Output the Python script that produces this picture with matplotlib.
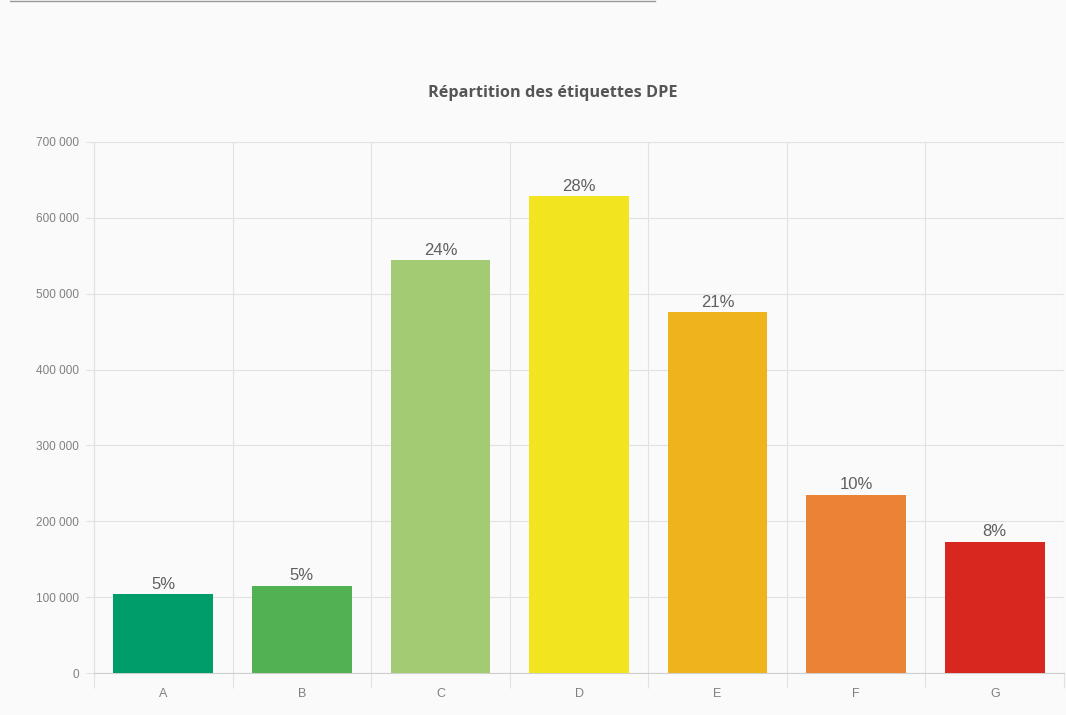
import matplotlib
matplotlib.use("Agg")
import matplotlib.pyplot as plt
from matplotlib.lines import Line2D
from matplotlib.ticker import FuncFormatter
import numpy as np

# Data
labels = ["A", "B", "C", "D", "E", "F", "G"]
counts = [104000, 115000, 544000, 629000, 476000, 235000, 173000]
percents = ["5%", "5%", "24%", "28%", "21%", "10%", "8%"]
colors = ["#009c6a", "#52b153", "#a3cb74", "#f2e41e", "#efb41b", "#ea8336", "#d7271f"]

bg = "#fafafa"
grid_col = "#e2e2e2"
text_col = "#808080"

fig = plt.figure(figsize=(10.66, 7.15), dpi=100, facecolor=bg)
ax = fig.add_axes([94 / 1066, 42 / 715, 970 / 1066, 531 / 715], facecolor=bg)

x = np.arange(len(labels))
bars = ax.bar(x, counts, width=0.72, color=colors, zorder=3)

for b, p in zip(bars, percents):
    ax.text(b.get_x() + b.get_width() / 2, b.get_height() + 3000, p,
            ha="center", va="bottom", fontsize=12, color="#5f5f5f",
            family="Liberation Sans", zorder=4)

ax.set_xlim(-0.5, len(labels) - 0.5)
ax.set_ylim(0, 700000)
ax.set_yticks(np.arange(0, 700001, 100000))
ax.yaxis.set_major_formatter(FuncFormatter(lambda v, _: f"{int(v):,}".replace(",", " ")))

ax.set_xticks(x)
ax.set_xticklabels(labels)
ax.set_xticks(np.arange(-0.5, len(labels), 1), minor=True)

ax.tick_params(axis="x", which="major", length=0, pad=11, labelsize=9, labelcolor=text_col)
ax.tick_params(axis="x", which="minor", length=11, color=grid_col, width=0.8)
ax.tick_params(axis="y", length=6, color=grid_col, width=0.8, pad=5, labelsize=8.5, labelcolor=text_col)
for t in ax.get_xticklabels() + ax.get_yticklabels():
    t.set_family("Liberation Sans")

ax.grid(axis="y", which="major", color=grid_col, lw=0.8, zorder=0)
ax.grid(axis="x", which="minor", color=grid_col, lw=0.8, zorder=0)

for s in ["top", "right"]:
    ax.spines[s].set_visible(False)
ax.spines["left"].set_color(grid_col)
ax.spines["bottom"].set_color("#cfcfcf")

fig.text(553 / 1066, 1 - 93 / 715, "Répartition des étiquettes DPE", ha="center", va="center",
         fontsize=11.7, fontweight="bold", color="#555555", family="Open Sans")

# cut-off link underline at the very top
fig.add_artist(Line2D([10 / 1066, 655 / 1066], [1 - 1 / 715, 1 - 1 / 715],
                      transform=fig.transFigure, color="#999999", lw=1))

fig.savefig("out.png", dpi=100, facecolor=bg)
